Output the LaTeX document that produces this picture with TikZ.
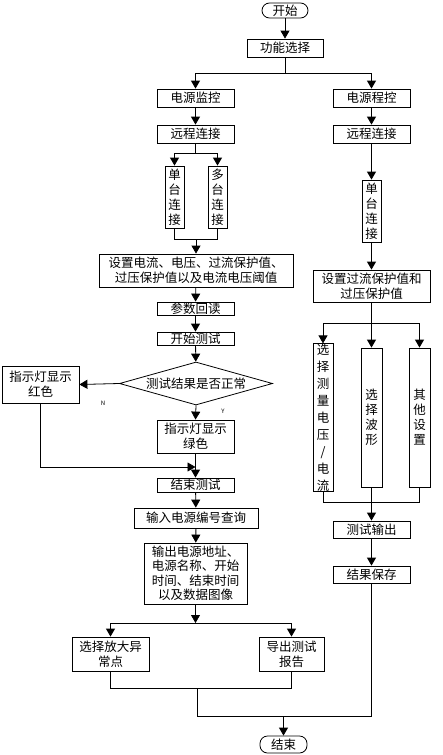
\documentclass[tikz,border=0pt]{standalone}
\usepackage{fontspec}
\setmainfont{Noto Sans CJK SC}
\usetikzlibrary{arrows.meta,shapes.geometric}
\begin{document}
\begin{tikzpicture}[x=1pt,y=-1pt,
  font=\fontsize{12.5}{15}\selectfont,
  line width=0.8pt,
  box/.style={draw, rectangle, inner sep=0pt, align=center},
  term/.style={draw, rectangle, rounded corners=7.5pt, inner sep=0pt},
  arr/.style={-{Triangle[length=8pt,width=9pt]}},
  lab/.style={font=\fontsize{6}{7}\selectfont\itshape, inner sep=0pt}]
\useasboundingbox (0,0) rectangle (442,755);
% left column
\node[term, minimum width=46pt, minimum height=15pt] (start) at (285,10.5) {开始};
\node[box, minimum width=76pt, minimum height=18pt] (func) at (285,48) {功能选择};
\node[box, minimum width=77pt, minimum height=18pt] (jk) at (195.5,98) {电源监控};
\node[box, minimum width=77pt, minimum height=18pt] (ck) at (371.5,98) {电源程控};
\node[box, minimum width=77pt, minimum height=18pt] (yc1) at (195.5,134) {远程连接};
\node[box, minimum width=77pt, minimum height=18pt] (yc2) at (371.5,134) {远程连接};
\node[box, minimum width=19pt, minimum height=62pt] (dt1) at (174.5,197) {单\\台\\连\\接};
\node[box, minimum width=19pt, minimum height=62pt] (dt2) at (217.5,197) {多\\台\\连\\接};
\node[box, minimum width=19pt, minimum height=62pt] (dt3) at (371.5,211) {单\\台\\连\\接};
\node[box, minimum width=194pt, minimum height=33pt] (set1) at (196,270.5) {设置电流、电压、过流保护值、\\过压保护值以及电流电压阈值};
\node[box, minimum width=117pt, minimum height=32pt] (set2) at (371.5,286) {设置过流保护值和\\过压保护值};
\node[box, minimum width=77pt, minimum height=13pt] (read) at (195.5,308.5) {参数回读};
\node[box, minimum width=77pt, minimum height=13pt] (stest) at (195.5,338.5) {开始测试};
\node[draw, diamond, aspect=3.6, inner sep=0pt, minimum width=153pt, minimum height=43pt] (dia) at (196,383.5) {测试结果是否正常};
\node[box, minimum width=77pt, minimum height=37pt] (red) at (40.5,384.5) {指示灯显示\\红色};
\node[box, minimum width=77pt, minimum height=33pt] (green) at (195.5,436.5) {指示灯显示\\绿色};
\node[lab] (nl) at (103,403) {N};
\node[lab] (yl) at (223,411) {Y};
\node[box, minimum width=77pt, minimum height=14pt] (etest) at (195.5,485) {结束测试};
\node[box, minimum width=124pt, minimum height=20pt] (inp) at (196,518) {输入电源编号查询};
\node[box, minimum width=103pt, minimum height=61pt, font=\fontsize{12.5}{14.5}\selectfont] (outp) at (195.5,573.5) {输出电源地址、\\电源名称、开始\\时间、结束时间\\以及数据图像};
\node[box, minimum width=77pt, minimum height=34pt] (zoom) at (110.5,654) {选择放大异\\常点};
\node[box, minimum width=65pt, minimum height=34pt] (exp) at (291.5,654) {导出测试\\报告};
\node[term, minimum width=47pt, minimum height=17pt] (fin) at (283.5,744.5) {结束};
% right column
\node[box, minimum width=20pt, minimum height=139pt, font=\fontsize{12.5}{17}\selectfont] (r1) at (323,417.5) {选\\择\\测\\量\\电\\压\\/\\电\\流};
\node[box, minimum width=21pt, minimum height=139pt] (r2) at (371.5,417.5) {选\\择\\波\\形};
\node[box, minimum width=21pt, minimum height=139pt] (r3) at (419.5,417.5) {其\\他\\设\\置};
\node[box, minimum width=77pt, minimum height=17pt] (tout) at (371.5,529.5) {测试输出};
\node[box, minimum width=77pt, minimum height=17pt] (save) at (371.5,574.5) {结果保存};
% junction coordinates
\coordinate (s1) at (285,73);
\coordinate (s2) at (195.5,153);
\coordinate (m1) at (196,239);
\coordinate (m2) at (195.5,467);
\coordinate (s3) at (195.5,623);
\coordinate (m3) at (197,688);
\coordinate (m4) at (197,716);
\coordinate (m5) at (371.5,716);
\coordinate (m6) at (283.5,716);
\coordinate (s4) at (371.5,323);
\coordinate (m7) at (371.5,502);
% connectors
\draw[arr] (start) -- (func);
\draw (func) -- (s1);
\draw[arr] (s1) -| (jk.north);
\draw[arr] (s1) -| (ck.north);
\draw[arr] (jk) -- (yc1);
\draw[arr] (ck) -- (yc2);
\draw (yc1) -- (s2);
\draw[arr] (s2) -| (dt1.north);
\draw[arr] (s2) -| (dt2.north);
\draw (dt1.south) |- (m1);
\draw (dt2.south) |- (m1);
\draw[arr] (m1) -- (set1.north);
\draw[arr] (set1) -- (read);
\draw[arr] (read) -- (stest);
\draw[arr] (stest) -- (dia);
\draw[arr] (dia.west) -- (red.east);
\draw[arr] (dia.south) -- (green.north);
\draw[arr] (red.south) |- (m2);
\draw[arr] (green) -- (etest);
\draw[arr] (etest) -- (inp);
\draw[arr] (inp) -- (outp);
\draw[arr] (outp) -- (s3);
\draw[arr] (s3) -| (zoom.north);
\draw[arr] (s3) -| (exp.north);
\draw (zoom.south) |- (m3);
\draw (exp.south) |- (m3);
\draw (m3) -- (m4) -- (m5) -- (save.south);
\draw[arr] (m6) -- (fin.north);
\draw[arr] (yc2) -- (dt3);
\draw[arr] (dt3) -- (set2);
\draw (set2) -- (s4);
\draw[arr] (s4) -| (r1.north);
\draw[arr] (s4) -- (r2.north);
\draw[arr] (s4) -| (r3.north);
\draw (r1.south) |- (m7);
\draw (r3.south) |- (m7);
\draw (r2.south) -- (m7);
\draw[arr] (m7) -- (tout.north);
\draw[arr] (tout) -- (save);
\end{tikzpicture}
\end{document}
